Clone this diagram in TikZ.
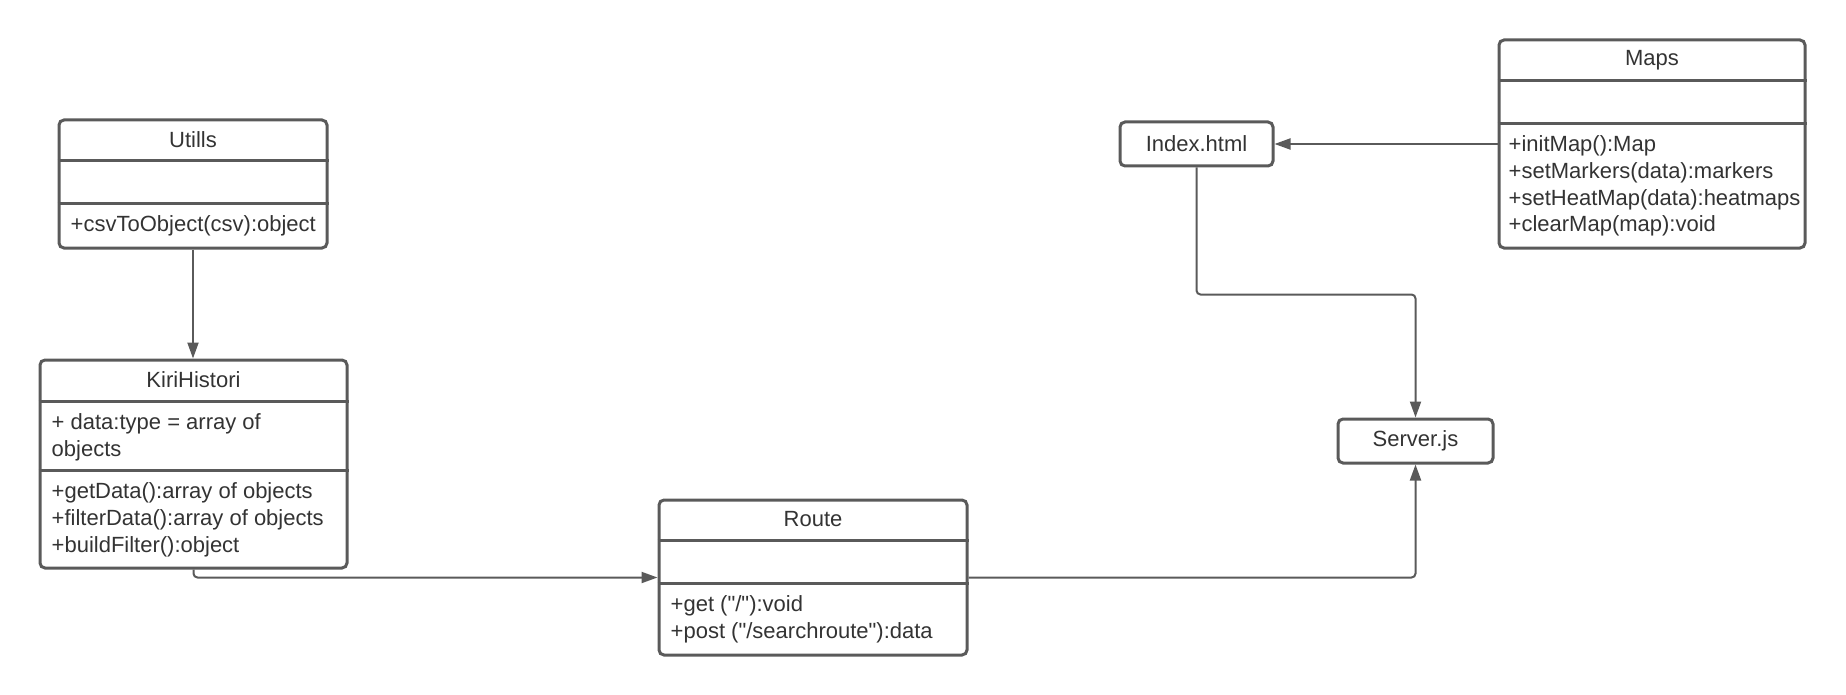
\documentclass[tikz,border=0pt]{standalone}
\usepackage{fontspec}
\setmainfont{Liberation Sans}
\usetikzlibrary{arrows.meta}
\definecolor{umlline}{HTML}{5A5A5A}
\definecolor{umltext}{HTML}{333333}

\begin{document}
\begin{tikzpicture}[x=1pt,y=-1pt,
  classbox/.style={draw=umlline,line width=3pt,rounded corners=5pt,inner sep=0pt},
  divider/.style={draw=umlline,line width=3pt},
  title/.style={text=umltext,font=\fontsize{22}{26.7}\selectfont},
  members/.style={anchor=north west,inner sep=0pt,align=left,text=umltext,font=\fontsize{22}{26.7}\selectfont},
  conn/.style={draw=umlline,line width=2pt,rounded corners=4pt,-{Triangle[length=16pt,width=11pt]}}]
  \useasboundingbox (0,0) rectangle (1846,695);

  % Utills
  \node[classbox,minimum width=268pt,minimum height=128pt] (utills) at (193,184) {};
  \draw[divider] ([yshift=-42pt]utills.north west) -- ([yshift=-42pt]utills.north east);
  \draw[divider] ([yshift=-85pt]utills.north west) -- ([yshift=-85pt]utills.north east);
  \node[title] (utillsname) at ([yshift=-21pt]utills.north) {Utills};
  \node[members] (utillsops) at ([xshift=13pt,yshift=-94.5pt]utills.north west) {\strut+csvToObject(csv):object};

  % KiriHistori
  \node[classbox,minimum width=307pt,minimum height=208pt] (kiri) at (193.5,464) {};
  \draw[divider] ([yshift=-43pt]kiri.north west) -- ([yshift=-43pt]kiri.north east);
  \draw[divider] ([yshift=-112pt]kiri.north west) -- ([yshift=-112pt]kiri.north east);
  \node[title] (kiriname) at ([yshift=-21.5pt]kiri.north) {KiriHistori};
  \node[members] (kiriattr) at ([xshift=13pt,yshift=-52pt]kiri.north west) {\strut+ data:type = array of\\objects};
  \node[members] (kiriops) at ([xshift=13pt,yshift=-121.5pt]kiri.north west)
    {\strut+getData():array of objects\\+filterData():array of objects\\+buildFilter():object};

  % Route
  \node[classbox,minimum width=308pt,minimum height=155pt] (route) at (813,577.5) {};
  \draw[divider] ([yshift=-42pt]route.north west) -- ([yshift=-42pt]route.north east);
  \draw[divider] ([yshift=-85pt]route.north west) -- ([yshift=-85pt]route.north east);
  \node[title] (routename) at ([yshift=-21pt]route.north) {Route};
  \node[members] (routeops) at ([xshift=13pt,yshift=-94.5pt]route.north west)
    {\strut+get (\textquotedbl/\textquotedbl):void\\+post (\textquotedbl/searchroute\textquotedbl):data};

  % Maps
  \node[classbox,minimum width=306pt,minimum height=208pt] (maps) at (1652,144) {};
  \draw[divider] ([yshift=-42pt]maps.north west) -- ([yshift=-42pt]maps.north east);
  \draw[divider] ([yshift=-85pt]maps.north west) -- ([yshift=-85pt]maps.north east);
  \node[title] (mapsname) at ([yshift=-22pt]maps.north) {Maps};
  \node[members] (mapsops) at ([xshift=11pt,yshift=-94.5pt]maps.north west)
    {\strut+initMap():Map\\+setMarkers(data):markers\\+setHeatMap(data):heatmaps\\+clearMap(map):void};

  % files
  \node[classbox,title,minimum width=153pt,minimum height=44pt] (index) at (1196.5,144) {Index.html};
  \node[classbox,title,minimum width=155pt,minimum height=44pt] (server) at (1415.5,441) {Server.js};

  % connectors
  \draw[conn] (utills.south) -- (kiri.north -| utills.south);
  \draw[conn] (kiri.south) |- (route.west);
  \draw[conn] (route.east) -| (server.south);
  \draw[conn] (maps.west) -- (index.east);
  \draw[conn] (index.south) -- ++(0,127) -| (server.north);
\end{tikzpicture}
\end{document}
